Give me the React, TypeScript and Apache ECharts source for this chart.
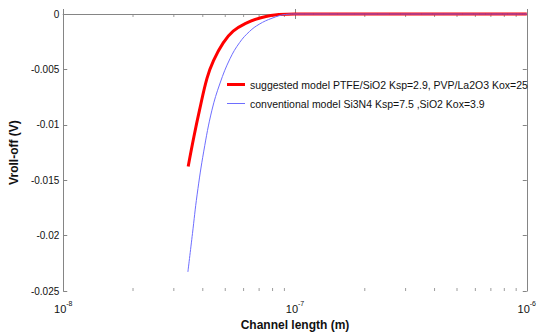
import React, { useEffect, useRef } from "react";
import * as echarts from "echarts";

const seriesNames = [
  "suggested model PTFE/SiO2 Ksp=2.9, PVP/La2O3 Kox=25",
  "conventional model Si3N4 Ksp=7.5 ,SiO2 Kox=3.9",
];

const suggestedL = [3.46e-8, 3.66e-8, 3.87e-8, 4.17e-8, 4.45e-8, 4.9e-8, 5.41e-8, 6.16e-8, 7.01e-8, 8.51e-8, 1e-7, 2e-7, 5e-7, 1e-6];
const suggestedV = [-0.01375, -0.0111, -0.0087, -0.0058, -0.0042, -0.0026, -0.00155, -0.00082, -0.00038, -0.00004, 0, 0, 0, 0];

const conventionalL = [3.45e-8, 3.61e-8, 3.78e-8, 4.04e-8, 4.38e-8, 4.75e-8, 5.24e-8, 5.77e-8, 6.36e-8, 7.01e-8, 7.96e-8, 9.09e-8, 1e-7, 2e-7, 5e-7, 1e-6];
const conventionalV = [-0.02327, -0.01982, -0.01632, -0.01237, -0.00868, -0.00623, -0.00404, -0.00257, -0.00158, -0.00092, -0.00038, -0.00004, 0, 0, 0, 0];

const minorTickL = [2e-8, 3e-8, 4e-8, 5e-8, 6e-8, 7e-8, 8e-8, 9e-8, 2e-7, 3e-7, 4e-7, 5e-7, 6e-7, 7e-7, 8e-7, 9e-7];

const yMin = -0.025;
const yMax = 0;
const yStep = 0.005;
const xMin = 1e-8;
const xMax = 1e-6;

const FONT = "'Liberation Sans', Arial, sans-serif";
const AXIS_COLOR = "#858585";
const RED = "#ff0000";
const BLUE = "#6e6eff";

export default function App() {
  const ref = useRef<HTMLDivElement>(null);
  useEffect(() => {
    if (!ref.current) return;
    const chart = echarts.init(ref.current, undefined, { renderer: "svg" });
    const zip = (a: number[], b: number[]) => a.map((v, i) => [v, b[i]]);
    const xLabel = (v: number) => {
      const e = Math.round(Math.log10(v));
      return `{a|10}{b|${e}}`;
    };
    const baseX = {
      type: "log",
      logBase: 10,
      min: xMin,
      max: xMax,
      splitNumber: 2,
      axisLine: { show: true, lineStyle: { color: AXIS_COLOR, width: 1 } },
      axisTick: { show: true, inside: true, length: 5, lineStyle: { color: AXIS_COLOR } },
      splitLine: { show: false },
      minorTick: { show: false },
    };
    const baseY = {
      type: "value",
      min: yMin,
      max: yMax,
      interval: yStep,
      axisLine: { show: true, lineStyle: { color: AXIS_COLOR, width: 1 } },
      axisTick: { show: true, inside: true, length: 4, lineStyle: { color: AXIS_COLOR } },
      splitLine: { show: false },
    };
    const legendBase = {
      orient: "vertical",
      left: 227,
      padding: 0,
      itemWidth: 18,
      itemGap: 5,
      icon: "rect",
      textStyle: { fontFamily: FONT, fontSize: 10.5, color: "#111" },
    };
    chart.setOption({
      animation: false,
      backgroundColor: "#ffffff",
      grid: { left: 60, right: 6, top: 14, bottom: 37, containLabel: false },
      legend: [
        { ...legendBase, top: 79, itemHeight: 3, data: [seriesNames[0]] },
        { ...legendBase, top: 98, itemHeight: 1, data: [seriesNames[1]] },
      ],
      xAxis: [
        {
          ...baseX,
          position: "bottom",
          name: "Channel length (m)",
          nameLocation: "middle",
          nameGap: 26,
          nameTextStyle: { fontFamily: FONT, fontSize: 12, fontWeight: "bold", color: "#111" },
          axisLabel: {
            show: true,
            margin: 5,
            formatter: xLabel,
            rich: {
              a: { fontFamily: FONT, fontSize: 11, color: "#111", padding: [7, 0, 0, 0] },
              b: { fontFamily: FONT, fontSize: 7, color: "#111", padding: [0, 0, 4, 0] },
            },
          },
        },
        {
          ...baseX,
          position: "top",
          axisLabel: { show: false },
        },
      ],
      yAxis: [
        {
          ...baseY,
          position: "left",
          name: "Vroll-off (V)",
          nameLocation: "middle",
          nameRotate: 90,
          nameGap: 35,
          nameTextStyle: { fontFamily: FONT, fontSize: 12, fontWeight: "bold", color: "#111" },
          axisLabel: {
            show: true,
            margin: 4,
            fontFamily: FONT,
            fontSize: 10,
            color: "#111",
            formatter: (v: number) => (Math.abs(v) < 1e-12 ? "0" : String(+v.toFixed(3))),
          },
        },
        {
          ...baseY,
          position: "right",
          axisLabel: { show: false },
        },
      ],
      series: [
        {
          type: "scatter",
          silent: true,
          clip: false,
          xAxisIndex: 0,
          yAxisIndex: 0,
          symbol: "rect",
          symbolSize: [1, 3],
          symbolOffset: [0, -1.5],
          itemStyle: { color: AXIS_COLOR },
          data: minorTickL.map((l) => [l, yMin]),
          z: 1,
        },
        {
          type: "scatter",
          silent: true,
          clip: false,
          xAxisIndex: 0,
          yAxisIndex: 0,
          symbol: "rect",
          symbolSize: [1, 3],
          symbolOffset: [0, 1.5],
          itemStyle: { color: AXIS_COLOR },
          data: minorTickL.map((l) => [l, yMax]),
          z: 1,
        },
        {
          name: seriesNames[0],
          type: "line",
          xAxisIndex: 0,
          yAxisIndex: 0,
          symbol: "none",
          smooth: 0.4,
          clip: false,
          lineStyle: { color: RED, width: 3 },
          itemStyle: { color: RED },
          data: zip(suggestedL, suggestedV),
          z: 3,
        },
        {
          name: seriesNames[1],
          type: "line",
          xAxisIndex: 0,
          yAxisIndex: 0,
          symbol: "none",
          smooth: 0.4,
          clip: false,
          lineStyle: { color: BLUE, width: 1 },
          itemStyle: { color: BLUE },
          data: zip(conventionalL, conventionalV),
          z: 4,
        },
      ],
    });
    return () => chart.dispose();
  }, []);
  return (
    <div
      ref={ref}
      style={{ position: "fixed", left: 0, top: 0, width: 539, height: 336, background: "#fff" }}
    />
  );
}
